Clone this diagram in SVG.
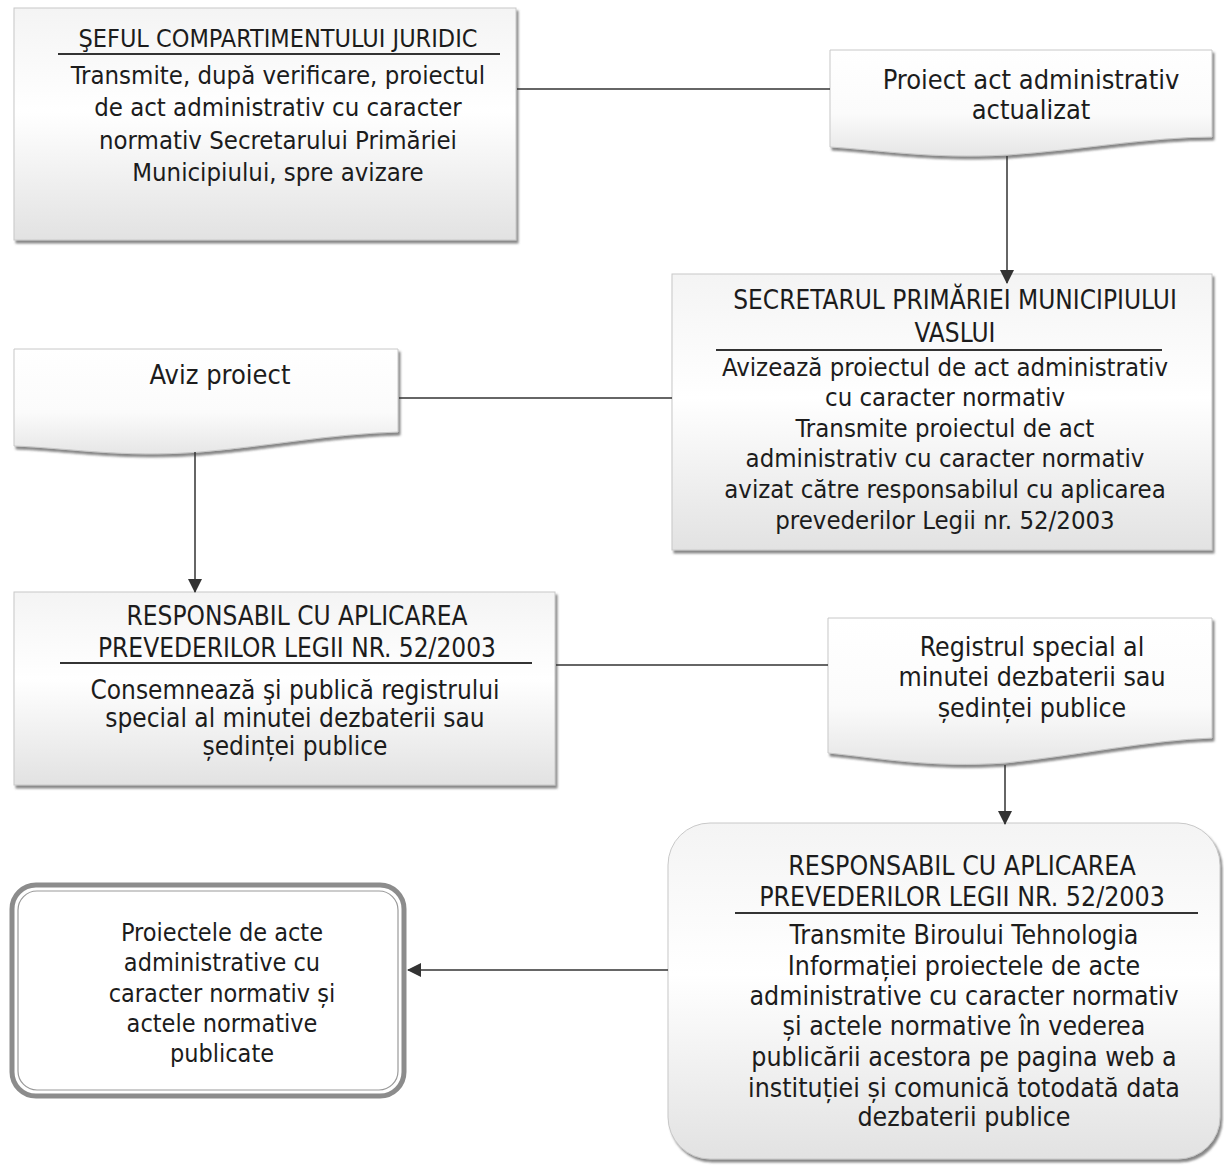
<svg xmlns="http://www.w3.org/2000/svg" width="1224" height="1167" viewBox="0 0 1224 1167">
<defs>
<linearGradient id="g" x1="0" y1="0" x2="0" y2="1">
<stop offset="0" stop-color="#f4f4f4"/>
<stop offset="0.45" stop-color="#ffffff"/>
<stop offset="1" stop-color="#e2e2e2"/>
</linearGradient>
<linearGradient id="gd" x1="0" y1="0" x2="0" y2="1">
<stop offset="0" stop-color="#ffffff"/>
<stop offset="0.6" stop-color="#fbfbfb"/>
<stop offset="1" stop-color="#e6e6e6"/>
</linearGradient>
<filter id="sh" x="-5%" y="-5%" width="110%" height="115%">
<feDropShadow dx="2" dy="3" stdDeviation="1.2" flood-color="#555" flood-opacity="0.7"/>
</filter>
<marker id="ah2" viewBox="0 0 14 14" markerWidth="14" markerHeight="14" refX="13" refY="7" orient="auto" markerUnits="userSpaceOnUse">
<path d="M0,0 L14,7 L0,14 Z" fill="#333"/>
</marker>
</defs>
<style>
text{font-family:"DejaVu Sans Condensed","DejaVu Sans",sans-serif;font-size:25.5px;fill:#1c1c1c;text-anchor:middle}
.t25{font-size:25px}
.t26{font-size:26px}
.t265{font-size:26.5px}
.t27{font-size:27px}
.box{fill:url(#g);stroke:#c8c8c8;stroke-width:1;filter:url(#sh)}
.doc{fill:url(#gd);stroke:#c8c8c8;stroke-width:1;filter:url(#sh)}
.rule{stroke:#333;stroke-width:2}
.conn{stroke:#333;stroke-width:1.5;fill:none}
</style>

<g id="sef">
<rect class="box" x="14" y="8" width="502" height="232"/>
<text class="t25" x="278" y="47">ŞEFUL COMPARTIMENTULUI JURIDIC</text>
<line class="rule" x1="58" y1="54" x2="500" y2="54"/>
<text x="278" y="84">Transmite, după verificare, proiectul</text>
<text x="278" y="116">de act administrativ cu caracter</text>
<text x="278" y="149">normativ Secretarului Primăriei</text>
<text x="278" y="181">Municipiului, spre avizare</text>
</g>

<g id="doc-proiect">
<path class="doc" d="M830,50 H1212 V137 C1150,137 1080,150 1007,155 C930,159 880,150 830,147 Z"/>
<text class="t27" x="1031" y="89">Proiect act administrativ</text>
<text class="t27" x="1031" y="119">actualizat</text>
</g>

<g id="secretar">
<rect class="box" x="672" y="274" width="540" height="276"/>
<text class="t26" x="955" y="309">SECRETARUL PRIMĂRIEI MUNICIPIULUI</text>
<text class="t26" x="955" y="342">VASLUI</text>
<line class="rule" x1="716" y1="350" x2="1162" y2="350"/>
<text x="945" y="376">Avizează proiectul de act administrativ</text>
<text x="945" y="406">cu caracter normativ</text>
<text x="945" y="437">Transmite proiectul de act</text>
<text x="945" y="467">administrativ cu caracter normativ</text>
<text x="945" y="498">avizat către responsabilul cu aplicarea</text>
<text x="945" y="529">prevederilor Legii nr. 52/2003</text>
</g>

<g id="doc-aviz">
<path class="doc" d="M14,349 H398 V432 C330,434 270,446 200,452 C120,458 70,448 14,446 Z"/>
<text class="t27" x="220" y="384">Aviz proiect</text>
</g>

<g id="responsabil1">
<rect class="box" x="14" y="592" width="541" height="193"/>
<text class="t26" x="297" y="625">RESPONSABIL CU APLICAREA</text>
<text class="t26" x="297" y="657">PREVEDERILOR LEGII NR. 52/2003</text>
<line class="rule" x1="60" y1="663" x2="532" y2="663"/>
<text class="t26" x="295" y="699">Consemnează şi publică registrului</text>
<text class="t26" x="295" y="727">special al minutei dezbaterii sau</text>
<text class="t26" x="295" y="755">ședinței publice</text>
</g>

<g id="doc-registru">
<path class="doc" d="M828,618 H1212 V738 C1150,740 1080,755 1005,763 C930,768 880,758 828,753 Z"/>
<text class="t265" x="1032" y="656">Registrul special al</text>
<text class="t265" x="1032" y="686">minutei dezbaterii sau</text>
<text class="t265" x="1032" y="717">ședinței publice</text>
</g>

<g id="responsabil2">
<rect class="box" x="668" y="823" width="552" height="336" rx="42" ry="42"/>
<text class="t265" x="962" y="875">RESPONSABIL CU APLICAREA</text>
<text class="t265" x="962" y="906">PREVEDERILOR LEGII NR. 52/2003</text>
<line class="rule" x1="735" y1="913" x2="1198" y2="913"/>
<text class="t265" x="964" y="944">Transmite Biroului Tehnologia</text>
<text class="t265" x="964" y="975">Informației proiectele de acte</text>
<text class="t265" x="964" y="1005">administrative cu caracter normativ</text>
<text class="t265" x="964" y="1035">și actele normative în vederea</text>
<text class="t265" x="964" y="1066">publicării acestora pe pagina web a</text>
<text class="t265" x="964" y="1097">instituției și comunică totodată data</text>
<text class="t265" x="964" y="1126">dezbaterii publice</text>
</g>

<g id="publicate">
<rect x="12" y="885" width="392" height="211" rx="24" ry="24" fill="#ffffff" stroke="#8c8c8c" stroke-width="5"/>
<rect x="18" y="891" width="380" height="199" rx="19" ry="19" fill="none" stroke="#9a9a9a" stroke-width="1.2"/>
<text class="t25" x="222" y="941">Proiectele de acte</text>
<text class="t25" x="222" y="971">administrative cu</text>
<text class="t25" x="222" y="1002">caracter normativ și</text>
<text class="t25" x="222" y="1032">actele normative</text>
<text class="t25" x="222" y="1062">publicate</text>
</g>

<g id="connectors">
<line class="conn" x1="517" y1="89" x2="830" y2="89"/>
<line class="conn" x1="1007" y1="156" x2="1007" y2="283" marker-end="url(#ah2)"/>
<line class="conn" x1="399" y1="398" x2="672" y2="398"/>
<line class="conn" x1="195" y1="452" x2="195" y2="592" marker-end="url(#ah2)"/>
<line class="conn" x1="556" y1="665" x2="828" y2="665"/>
<line class="conn" x1="1005" y1="765" x2="1005" y2="824" marker-end="url(#ah2)"/>
<line class="conn" x1="668" y1="970" x2="408" y2="970" marker-end="url(#ah2)"/>
</g>
</svg>
